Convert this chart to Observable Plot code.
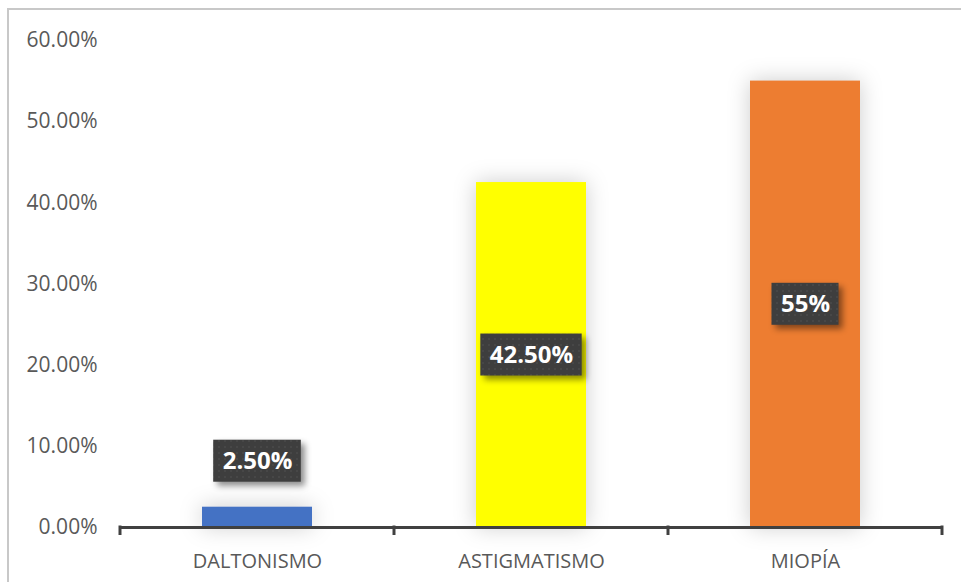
<!DOCTYPE html>
<html>
<head>
<meta charset="utf-8">
<script src="https://cdn.jsdelivr.net/npm/d3@7"></script>
<script src="https://cdn.jsdelivr.net/npm/@observablehq/plot@0.6"></script>
<style>
  body { margin: 0; background: #fff; }
  #chart { position: relative; width: 961px; height: 582px; overflow: hidden; }
  #frame {
    position: absolute; left: 7px; top: 8px; right: -10px; bottom: -10px;
    border-top: 2px solid #c8c8c8; border-left: 2px solid #c8c8c8;
    pointer-events: none;
  }
  .bars rect { filter: drop-shadow(0 0 11px rgba(0,0,0,0.2)); }
  .label-boxes rect { filter: drop-shadow(4px 4px 3px rgba(0,0,0,0.45)); }
</style>
</head>
<body>
<div id="chart"><div id="frame"></div></div>
<script>
// Vision conditions and their share of cases
const categories = ["DALTONISMO", "ASTIGMATISMO", "MIOPÍA"];
const values = [0.025, 0.425, 0.55];
const labels = ["2.50%", "42.50%", "55%"];
const colors = ["#4472C4", "#FFFF00", "#ED7D31"];
const yTicks = [0, 0.1, 0.2, 0.3, 0.4, 0.5, 0.6];

const data = categories.map((c, i) => ({
  category: c, value: values[i], label: labels[i], color: colors[i]
}));

// Small values get their label above the bar, others centred inside it
const isSmall = d => d.value < 0.1;
const outsideOffset = -46;

const chart = Plot.plot({
  width: 961,
  height: 582,
  marginLeft: 119,
  marginRight: 18,
  marginTop: 40,
  marginBottom: 55,
  style: { fontFamily: "'Open Sans', sans-serif", background: "transparent", color: "#595959", overflow: "visible" },
  x: { domain: categories, padding: 0, label: null },
  y: { domain: [0, 0.6], label: null },
  color: { type: "identity" },
  marks: [
    Plot.axisY({ ticks: yTicks, tickFormat: d3.format(".2%"), tickSize: 0, tickPadding: 22, fontSize: 21, label: null }),
    Plot.axisX({ tickSize: 0, tickPadding: 26, fontSize: 20, label: null }),
    Plot.barY(data, { x: "category", y: "value", fill: "color", insetLeft: 82, insetRight: 82, className: "bars" }),
    Plot.ruleY([0], { stroke: "#404040", strokeWidth: 3 }),
    Plot.text(data.filter(d => !isSmall(d)), {
      x: "category", y: d => d.value / 2, text: "label",
      fill: "white", fontWeight: "bold", fontSize: 24, className: "labels"
    }),
    Plot.text(data.filter(isSmall), {
      x: "category", y: "value", dy: outsideOffset, text: "label",
      fill: "white", fontWeight: "bold", fontSize: 24, className: "labels"
    })
  ]
});

document.getElementById("chart").prepend(chart);

const svg = d3.select(chart);
const xs = chart.scale("x");
const ys = chart.scale("y");
const y0 = ys.apply(0);

// Category separator ticks along the baseline
const edges = categories.map(c => xs.apply(c)).concat([xs.apply(categories[categories.length - 1]) + xs.bandwidth]);
const tickG = svg.append("g");
edges.forEach(e => {
  tickG.append("line")
    .attr("x1", e).attr("x2", e)
    .attr("y1", y0 - 1.5).attr("y2", y0 + 8)
    .attr("stroke", "#404040").attr("stroke-width", 3);
});

// Dark textured boxes behind the value labels
const defs = svg.append("defs");
const pat = defs.append("pattern")
  .attr("id", "dots").attr("width", 6).attr("height", 6)
  .attr("patternUnits", "userSpaceOnUse");
pat.append("rect").attr("width", 6).attr("height", 6).attr("fill", "#3e3e3e");
pat.append("circle").attr("cx", 3).attr("cy", 3).attr("r", 1).attr("fill", "#4a4a4a");

const labelGroups = chart.querySelectorAll("g.labels");
const boxG = svg.insert("g", () => labelGroups[0]).attr("class", "label-boxes");
const texts = [];
labelGroups.forEach(g => g.querySelectorAll("text").forEach(t => texts.push(t)));
texts.forEach(t => {
  const d = data.find(r => r.label === t.textContent);
  const cx = xs.apply(d.category) + xs.bandwidth / 2;
  const cy = isSmall(d) ? ys.apply(d.value) + outsideOffset : ys.apply(d.value / 2);
  const w = t.getComputedTextLength() + 18;
  const h = 42;
  boxG.append("rect")
    .attr("x", cx - w / 2).attr("y", cy - h / 2)
    .attr("width", w).attr("height", h)
    .attr("fill", "url(#dots)");
});
</script>
</body>
</html>
